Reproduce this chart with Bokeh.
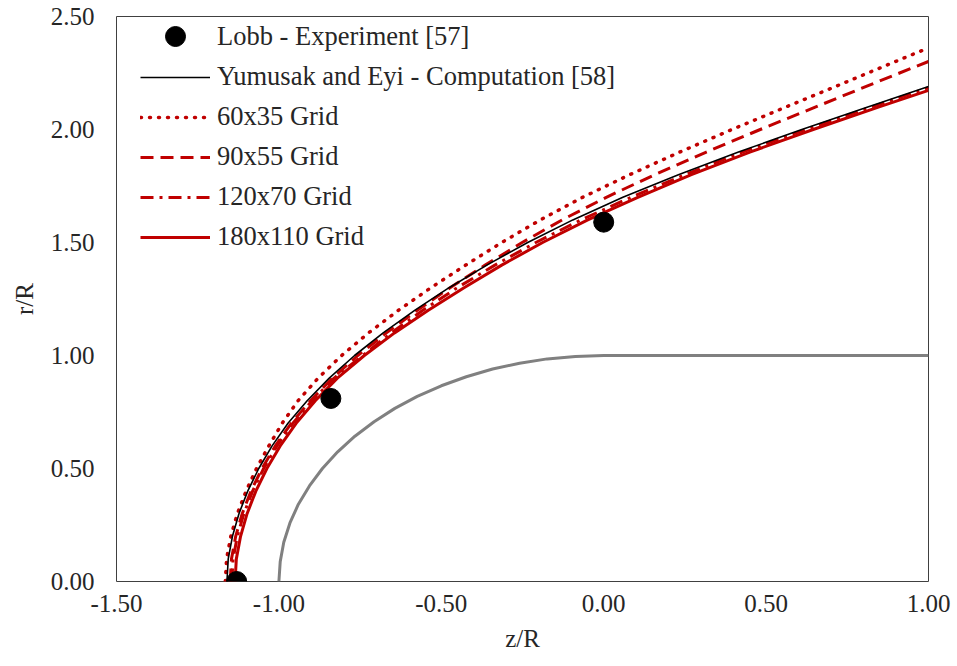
from bokeh.plotting import figure
from bokeh.models import FixedTicker, NumeralTickFormatter, Legend, LegendItem, Range1d
from bokeh.embed import file_html
from bokeh.resources import INLINE

# ---- data (z/R, r/R) ----
body_z = [-1.000, -0.996, -0.985, -0.966, -0.940, -0.906, -0.866, -0.819, -0.766, -0.707,
          -0.643, -0.574, -0.500, -0.423, -0.342, -0.259, -0.174, -0.087, 0.000, 1.000]
body_r = [0.000, 0.087, 0.174, 0.259, 0.342, 0.423, 0.500, 0.574, 0.643, 0.707,
          0.766, 0.819, 0.866, 0.906, 0.940, 0.966, 0.985, 0.996, 1.000, 1.000]

exp_z = [-1.13, -0.84, 0.00]
exp_r = [0.00, 0.81, 1.59]

yum_z = [-1.160, -1.156, -1.143, -1.123, -1.096, -1.062, -1.021, -0.972, -0.913, -0.845, -0.767,
         -0.679, -0.582, -0.476, -0.360, -0.234, -0.095, 0.059, 0.230, 0.415, 0.610, 0.813, 1.000]
yum_r = [0.00, 0.10, 0.20, 0.30, 0.40, 0.50, 0.60, 0.70, 0.80, 0.90, 1.00,
         1.10, 1.20, 1.30, 1.40, 1.50, 1.60, 1.70, 1.80, 1.90, 2.00, 2.10, 2.190]

g60_z = [-1.165, -1.161, -1.148, -1.128, -1.101, -1.069, -1.031, -0.990, -0.941, -0.879, -0.807,
         -0.724, -0.632, -0.532, -0.425, -0.314, -0.195, -0.065, 0.080, 0.234, 0.395, 0.562,
         0.730, 0.897, 1.000]
g60_r = [0.00, 0.10, 0.20, 0.30, 0.40, 0.50, 0.60, 0.70, 0.80, 0.90, 1.00,
         1.10, 1.20, 1.30, 1.40, 1.50, 1.60, 1.70, 1.80, 1.90, 2.00, 2.10,
         2.20, 2.30, 2.361]

g90_z = [-1.150, -1.146, -1.133, -1.113, -1.086, -1.052, -1.011, -0.962, -0.903, -0.835, -0.757,
         -0.669, -0.574, -0.473, -0.365, -0.251, -0.128, 0.008, 0.157, 0.316, 0.482, 0.653,
         0.824, 1.000]
g90_r = [0.00, 0.10, 0.20, 0.30, 0.40, 0.50, 0.60, 0.70, 0.80, 0.90, 1.00,
         1.10, 1.20, 1.30, 1.40, 1.50, 1.60, 1.70, 1.80, 1.90, 2.00, 2.10,
         2.20, 2.301]

g120_z = [-1.145, -1.141, -1.128, -1.108, -1.081, -1.047, -1.006, -0.957, -0.898, -0.830, -0.742,
          -0.654, -0.557, -0.451, -0.335, -0.209, -0.070, 0.084, 0.250, 0.427, 0.622, 0.825, 1.000]
g120_r = [0.00, 0.10, 0.20, 0.30, 0.40, 0.50, 0.60, 0.70, 0.80, 0.90, 1.00,
          1.10, 1.20, 1.30, 1.40, 1.50, 1.60, 1.70, 1.80, 1.90, 2.00, 2.10, 2.185]

g180_z = [-1.135, -1.131, -1.118, -1.098, -1.071, -1.037, -0.996, -0.947, -0.888, -0.820, -0.737,
          -0.644, -0.540, -0.430, -0.314, -0.188, -0.049, 0.105, 0.270, 0.450, 0.645, 0.848, 1.000]
g180_r = [0.00, 0.10, 0.20, 0.30, 0.40, 0.50, 0.60, 0.70, 0.80, 0.90, 1.00,
          1.10, 1.20, 1.30, 1.40, 1.50, 1.60, 1.70, 1.80, 1.90, 2.00, 2.10, 2.173]

x_ticks = [-1.5, -1.0, -0.5, 0.0, 0.5, 1.0]
y_ticks = [0.0, 0.5, 1.0, 1.5, 2.0, 2.5]

labels = ["Lobb - Experiment [57]", "Yumusak and Eyi - Computation [58]",
          "60x35 Grid", "90x55 Grid", "120x70 Grid", "180x110 Grid"]

RED = "#C00000"
FONT = "Liberation Serif"
TXT = "#262626"

p = figure(width=952, height=664, x_range=Range1d(-1.5, 1.0), y_range=Range1d(0, 2.5),
           output_backend="svg", toolbar_location=None,
           min_border_left=116, min_border_right=24, min_border_top=16, min_border_bottom=83)

p.xgrid.visible = False
p.ygrid.visible = False
p.outline_line_color = "#404040"
p.outline_line_width = 1
p.background_fill_color = "white"
p.border_fill_color = "white"

for ax in (p.xaxis[0], p.yaxis[0]):
    ax.axis_line_color = None
    ax.major_tick_line_color = None
    ax.minor_tick_line_color = None
    ax.major_tick_out = 0
    ax.major_tick_in = 0
    ax.major_label_text_font = FONT
    ax.major_label_text_font_size = "25px"
    ax.major_label_text_color = TXT
    ax.axis_label_text_font = FONT
    ax.axis_label_text_font_size = "25px"
    ax.axis_label_text_font_style = "normal"
    ax.axis_label_text_color = TXT
    ax.formatter = NumeralTickFormatter(format="0.00")

p.xaxis[0].ticker = FixedTicker(ticks=x_ticks)
p.yaxis[0].ticker = FixedTicker(ticks=y_ticks)
p.xaxis[0].axis_label = "z/R"
p.yaxis[0].axis_label = "r/R"
p.xaxis[0].major_label_standoff = 13
p.yaxis[0].major_label_standoff = 22
p.xaxis[0].axis_label_standoff = 10
p.yaxis[0].axis_label_standoff = 10

p.line(body_z, body_r, line_color="#808080", line_width=3)

r60 = p.line(g60_z, g60_r, line_color=RED, line_width=3.5, line_dash="1 8", line_cap="round")
r90 = p.line(g90_z, g90_r, line_color=RED, line_width=3, line_dash="13 7")
r120 = p.line(g120_z, g120_r, line_color=RED, line_width=3, line_dash="13 6 3 6")
r180 = p.line(g180_z, g180_r, line_color=RED, line_width=3)
ryum = p.line(yum_z, yum_r, line_color="black", line_width=1.6)
rexp = p.scatter(exp_z, exp_r, size=20, marker="circle", fill_color="black", line_color="black")


def style(lg, gh):
    lg.border_line_color = None
    lg.background_fill_alpha = 0
    lg.label_text_font = FONT
    lg.label_text_font_size = "26.5px"
    lg.label_text_color = TXT
    lg.glyph_width = 70
    lg.glyph_height = gh
    lg.label_height = 24
    lg.label_standoff = 7
    lg.spacing = 9
    lg.padding = 6
    lg.margin = 0


legend_a = Legend(items=[LegendItem(label=labels[0], renderers=[rexp])],
                  location=(24, 520), orientation="vertical")
style(legend_a, 50)
legend_b = Legend(items=[LegendItem(label=labels[1], renderers=[ryum]),
                         LegendItem(label=labels[2], renderers=[r60]),
                         LegendItem(label=labels[3], renderers=[r90]),
                         LegendItem(label=labels[4], renderers=[r120]),
                         LegendItem(label=labels[5], renderers=[r180])],
                  location=(24, 329), orientation="vertical")
style(legend_b, 24)
p.add_layout(legend_a, "center")
p.add_layout(legend_b, "center")

open("out.html", "w").write(file_html(p, INLINE))
